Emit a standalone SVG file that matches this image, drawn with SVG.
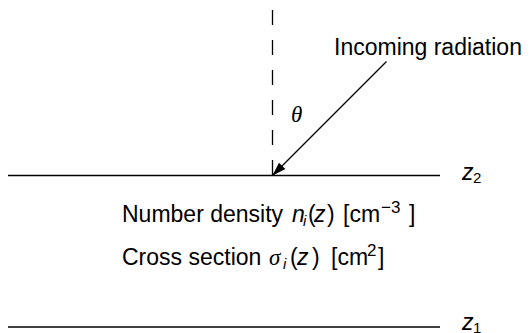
<svg xmlns="http://www.w3.org/2000/svg" width="530" height="333" viewBox="0 0 530 333">
<style>
.t{font-family:"Liberation Sans",Arial,sans-serif;font-size:23px;fill:#000}
.i{font-style:italic}
.g{font-family:"Liberation Serif","DejaVu Serif",serif;font-style:italic}
.s{font-size:15px}
.u{font-size:17px}
.ln{stroke:#000;stroke-width:1.3;fill:none}
</style>
<defs>
<marker id="ah" markerWidth="14" markerHeight="10" refX="13" refY="5" orient="auto" markerUnits="userSpaceOnUse">
<path d="M0,0.5 L14,5 L0,9.5 Z" fill="#000"/>
</marker>
</defs>
<g id="connectors">
<line class="ln" x1="272.5" y1="10" x2="272.5" y2="175" stroke-dasharray="15 15"/>
<line class="ln" x1="386.5" y1="61.5" x2="273" y2="175" marker-end="url(#ah)"/>
</g>
<g id="layer-top">
<line class="ln" x1="8" y1="175.5" x2="440" y2="175.5"/>
<text class="t" x="462" y="180"><tspan class="i">z</tspan><tspan class="s" x="473" dy="3">2</tspan></text>
</g>
<g id="layer-bottom">
<line class="ln" x1="8" y1="327" x2="440" y2="327"/>
<text class="t" x="462" y="330"><tspan class="i">z</tspan><tspan class="s" x="473" dy="3">1</tspan></text>
</g>
<g id="radiation-label">
<text class="t" x="334" y="55">Incoming radiation</text>
</g>
<g id="theta-label">
<text class="t g" x="291" y="122">θ</text>
</g>
<g id="density-label">
<text class="t" x="122" y="222">Number density <tspan class="i" x="292">n</tspan><tspan class="i s" x="303" dy="4">i</tspan><tspan x="308" dy="-4">(</tspan><tspan class="i" x="314">z</tspan><tspan x="327">)</tspan><tspan x="343">[cm</tspan><tspan class="u" x="381" dy="-9">−3</tspan><tspan x="409" dy="9">]</tspan></text>
</g>
<g id="cross-label">
<text class="t" x="122" y="265">Cross section <tspan class="g" x="269">σ</tspan><tspan class="i s" x="283" dy="4">i</tspan><tspan x="290" dy="-4">(</tspan><tspan class="i" x="297">z</tspan><tspan x="312">)</tspan><tspan x="331">[cm</tspan><tspan class="u" x="367" dy="-9">2</tspan><tspan x="378" dy="9">]</tspan></text>
</g>
</svg>
